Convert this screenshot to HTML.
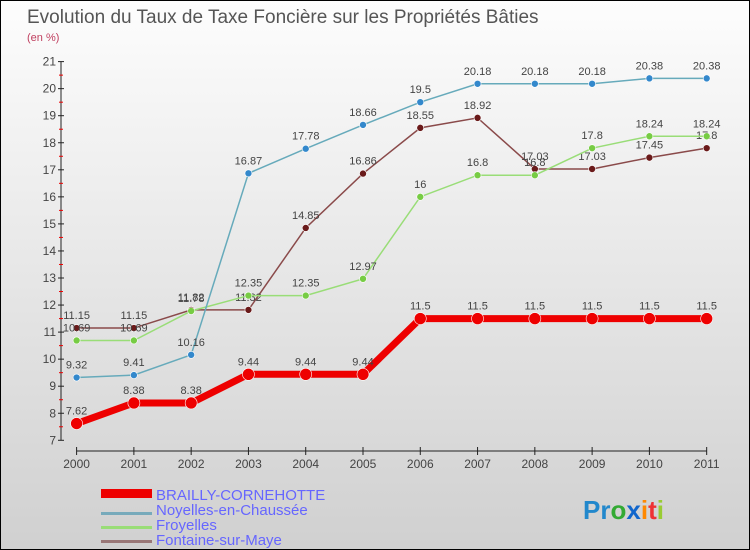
<!DOCTYPE html>
<html><head><meta charset="utf-8"><style>
body{margin:0}
#c{position:relative;width:750px;height:550px;box-sizing:border-box;border:1px solid #000;background:linear-gradient(#fdfdfd,#d0d0d0);font-family:"Liberation Sans",sans-serif;overflow:hidden}
</style></head><body>
<div id="c">
<svg id="s" width="750" height="550" style="position:absolute;left:0;top:0">
<text x="26" y="22" font-size="19" fill="#555">Evolution du Taux de Taxe Foncière sur les Propriétés Bâties</text>
<text x="26" y="40" font-size="11" fill="#c04060">(en %)</text>
<g id="ax"></g><g id="series"></g>
<g>
<rect x="100" y="488" width="51" height="9" fill="#e00"/>
<text x="155" y="499" font-size="15" fill="#66f">BRAILLY-CORNEHOTTE</text>
<rect x="100" y="511" width="51" height="3" fill="#7ab"/>
<text x="155" y="514" font-size="15" fill="#66f">Noyelles-en-Chaussée</text>
<rect x="100" y="525" width="51" height="3" fill="#9d7"/>
<text x="155" y="529" font-size="15" fill="#66f">Froyelles</text>
<rect x="100" y="539" width="51" height="3" fill="#977"/>
<text x="155" y="544" font-size="15" fill="#66f">Fontaine-sur-Maye</text>
</g>
<text x="582" y="518" font-size="26" font-weight="bold"><tspan fill="#28c">Pr</tspan><tspan fill="#3a3">o</tspan><tspan fill="#16c">x</tspan><tspan fill="#f80">i</tspan><tspan fill="#e33">t</tspan><tspan fill="#9c3">i</tspan></text>
</svg>
</div>
<script>
const years=[2000,2001,2002,2003,2004,2005,2006,2007,2008,2009,2010,2011];
const yTicks=[7,8,9,10,11,12,13,14,15,16,17,18,19,20,21];
const brailly=[7.62,8.38,8.38,9.44,9.44,9.44,11.5,11.5,11.5,11.5,11.5,11.5];
const noyelles=[9.32,9.41,10.16,16.87,17.78,18.66,19.5,20.18,20.18,20.18,20.38,20.38];
const froyelles=[10.69,10.69,11.78,12.35,12.35,12.97,16,16.8,16.8,17.8,18.24,18.24];
const fontaine=[11.15,11.15,11.82,11.82,14.85,16.86,18.55,18.92,17.03,17.03,17.45,17.8];
const NS="http://www.w3.org/2000/svg";
const X=i=>75.6+i*57.28, Y=v=>439.3-(v-7)*27.05;
function mk(p,t,a){const e=document.createElementNS(NS,t);for(const k in a)e.setAttribute(k,a[k]);p.appendChild(e);return e;}
const ax=document.getElementById('ax');
let e=mk(ax,'line',{x1:60,y1:Y(21),x2:60,y2:Y(7),stroke:'#222'});


yTicks.forEach(v=>{
 mk(ax,'line',{x1:57,y1:Y(v),x2:63,y2:Y(v),stroke:'#222'});
 if(v<21)mk(ax,'line',{x1:58,y1:Y(v+0.5),x2:62,y2:Y(v+0.5),stroke:'#e00'});
 const t=mk(ax,'text',{x:55,y:Y(v)+4,'font-size':12,fill:'#444','text-anchor':'end'});t.textContent=v;
 
 
});
e=mk(ax,'line',{x1:X(0),y1:450,x2:X(11),y2:450,stroke:'#222'});


years.forEach((y,i)=>{
 mk(ax,'line',{x1:X(i),y1:446,x2:X(i),y2:454,stroke:'#222'});
 const t=mk(ax,'text',{x:X(i),y:467,'font-size':12,fill:'#444','text-anchor':'middle'});t.textContent=y;
 
 
});
const sg=document.getElementById('series');
function draw(arr,name,col,w,r,fill){
 const g=mk(sg,'g',{});
 
 
 mk(g,'polyline',{points:arr.map((v,i)=>X(i)+','+Y(v)).join(' '),fill:'none',stroke:col,'stroke-width':w});
 arr.forEach((v,i)=>{
  const c=mk(g,'circle',{cx:X(i),cy:Y(v),r:r,fill:fill,stroke:'#fff','stroke-width':0.6});
  
  
  const t=mk(g,'text',{x:X(i),y:Y(v)-9,'font-size':11,fill:'#444','text-anchor':'middle'});t.textContent=v;
  
  
 });
}
draw(fontaine,'fontaine','#8a4a4a',1.5,3.5,'#6a1a1a');
draw(froyelles,'froyelles','#9d7',1.5,3.5,'#7c4');
draw(noyelles,'noyelles','#6ab',1.5,3.5,'#38c');
draw(brailly,'brailly','#e00',7,6,'#e00');
</script>
</body></html>
